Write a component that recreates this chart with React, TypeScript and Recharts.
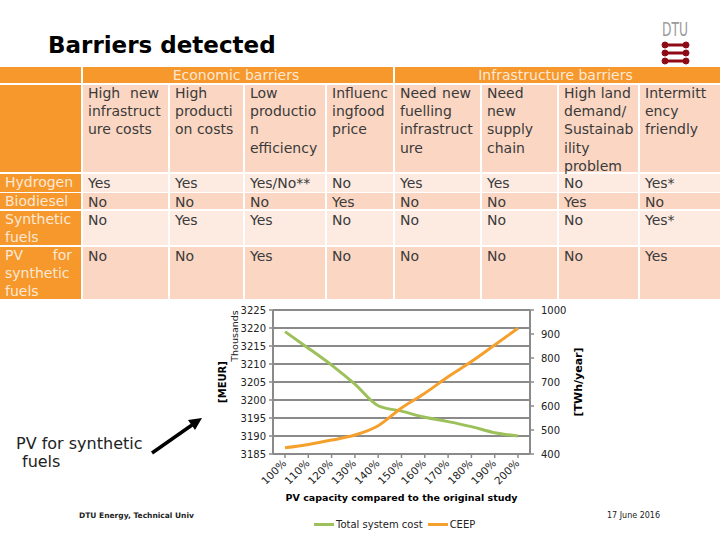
import React from "react";
import { LineChart, Line, XAxis, YAxis, CartesianGrid, Legend } from "recharts";

// chart values
const pvCapacity = ["100%", "110%", "120%", "130%", "140%", "150%", "160%", "170%", "180%", "190%", "200%"];
const totalSystemCost = [3219.0, 3214.4, 3209.7, 3204.4, 3198.4, 3196.9, 3195.2, 3194.0, 3192.6, 3190.9, 3190.0];
const ceep = [426, 440, 458, 479, 518, 592, 653, 722, 785, 854, 924];
const costTicks = [3185, 3190, 3195, 3200, 3205, 3210, 3215, 3220, 3225];
const ceepTicks = [400, 500, 600, 700, 800, 900, 1000];
const seriesNames = ["Total system cost", "CEEP"];

// barrier table
const barrierGroups = ["Economic barriers", "Infrastructure barriers"];
const barrierHeaders = [
  ["High new", "infrastruct", "ure costs"],
  ["High", "producti", "on costs"],
  ["Low", "productio", "n", "efficiency"],
  ["Influenc", "ingfood", "price"],
  ["Need new", "fuelling", "infrastruct", "ure"],
  ["Need", "new", "supply", "chain"],
  ["High land", "demand/", "Sustainab", "ility", "problem"],
  ["Intermitt", "ency", "friendly"],
];
const fuels = [["Hydrogen"], ["Biodiesel"], ["Synthetic", "fuels"], ["PV for", "synthetic", "fuels"]];
const answers = [
  ["Yes", "Yes", "Yes/No**", "No", "Yes", "Yes", "No", "Yes*"],
  ["No", "No", "No", "Yes", "No", "No", "Yes", "No"],
  ["No", "Yes", "Yes", "No", "No", "No", "No", "Yes*"],
  ["No", "No", "Yes", "No", "No", "No", "No", "Yes"],
];
const justified = new Set(["High new", "Need new", "PV for"]);

const chartData = pvCapacity.map((pv, i) => ({
  pv,
  cost: totalSystemCost[i],
  ceep: ceep[i],
}));

// layout
const colEdges = [[0, 81], [83, 168], [170, 243], [245, 325], [327, 393], [395, 480], [482, 557], [559, 638], [640, 720]];
const groupEdges = [[83, 393], [395, 720]];
const rowEdges = [[174, 192], [193, 209], [211, 245], [247, 299]];

const ORANGE = "#F6982C";
const PINK = "#FBD7C3";
const LIGHT = "#FDEBE2";
const PALE_TEXT = "#FDE8D6";
const CELL_TEXT = "#3a3a3a";
const GRID = "#8a8a8a";
const GREEN = "#9CC05A";
const LINE_ORANGE = "#F5A02C";
const FONT = "'DejaVu Sans', Verdana, sans-serif";

type CellProps = {
  left: number;
  right: number;
  top: number;
  bottom: number;
  bg: string;
  color: string;
  lines: string[];
  lh: number;
  shift?: number;
  center?: boolean;
};

const Cell = ({ left, right, top, bottom, bg, color, lines, lh, shift = 0, center }: CellProps) => (
  <div
    style={{
      position: "absolute",
      left,
      top,
      width: right - left,
      height: bottom - top,
      background: bg,
      color,
      boxSizing: "border-box",
      padding: "0 9px 0 5px",
      lineHeight: `${lh}px`,
      fontSize: 14,
      textAlign: center ? "center" : "left",
      whiteSpace: "nowrap",
    }}
  >
    <div style={{ position: "relative", top: shift }}>
      {lines.map((line, i) =>
        justified.has(line) ? (
          <div key={i} style={{ display: "flex", justifyContent: "space-between" }}>
            {line.split(" ").map((w) => (
              <span key={w}>{w}</span>
            ))}
          </div>
        ) : (
          <div key={i}>{line}</div>
        )
      )}
    </div>
  </div>
);

const BarrierTable = () => (
  <>
    <Cell left={0} right={81} top={67} bottom={83} bg={ORANGE} color={PALE_TEXT} lines={[""]} lh={16} />
    {barrierGroups.map((g, i) => (
      <Cell
        key={g}
        left={groupEdges[i][0]}
        right={groupEdges[i][1]}
        top={67}
        bottom={83}
        bg={ORANGE}
        color={PALE_TEXT}
        lines={[g]}
        lh={16}
        center
      />
    ))}
    <Cell left={0} right={81} top={85} bottom={172} bg={ORANGE} color={PALE_TEXT} lines={[""]} lh={18.2} />
    {barrierHeaders.map((h, i) => (
      <Cell
        key={i}
        left={colEdges[i + 1][0]}
        right={colEdges[i + 1][1]}
        top={85}
        bottom={172}
        bg={PINK}
        color={CELL_TEXT}
        lines={h}
        lh={18.2}
        shift={-1}
      />
    ))}
    {fuels.map((f, r) => (
      <React.Fragment key={r}>
        <Cell
          left={0}
          right={81}
          top={rowEdges[r][0]}
          bottom={rowEdges[r][1]}
          bg={ORANGE}
          color={PALE_TEXT}
          lines={f}
          lh={17.8}
        />
        {answers[r].map((a, c) => (
          <Cell
            key={c}
            left={colEdges[c + 1][0]}
            right={colEdges[c + 1][1]}
            top={rowEdges[r][0]}
            bottom={rowEdges[r][1]}
            bg={r % 2 === 0 ? LIGHT : PINK}
            color={CELL_TEXT}
            lines={[a]}
            lh={18}
          />
        ))}
      </React.Fragment>
    ))}
  </>
);

const PvTick = ({ x, y, payload }: any) => (
  <text
    x={x + 2}
    y={y + 4}
    transform={`rotate(-45, ${x + 2}, ${y + 4})`}
    textAnchor="end"
    fontSize={10.5}
    fill="#222"
  >
    {payload.value}
  </text>
);

const LegendRow = ({ payload }: any) => {
  const items = [...(payload || [])].sort(
    (a: any, b: any) => seriesNames.indexOf(a.value) - seriesNames.indexOf(b.value)
  );
  return (
    <div style={{ display: "flex", alignItems: "center", fontSize: 10, color: "#222", fontFamily: FONT }}>
      {items.map((p: any) => (
        <div key={p.value} style={{ display: "flex", alignItems: "center", marginRight: 5 }}>
          <span style={{ display: "inline-block", width: 20, height: 3, background: p.color, marginRight: 2 }} />
          <span>{p.value}</span>
        </div>
      ))}
    </div>
  );
};

const Backdrop = () => (
  <svg width={720} height={540} style={{ position: "absolute", left: 0, top: 0 }} fontFamily={FONT}>
    <text x={48} y={53} fontSize={23} fontWeight="bold" fill="#000">
      Barriers detected
    </text>
    <text x={662} y={36} fontSize={20} fill="#9a9a9a" textLength={26} lengthAdjust="spacingAndGlyphs">
      DTU
    </text>
    {[45, 53, 61].map((y) => (
      <g key={y} fill="#8E0B16" stroke="#8E0B16">
        <line x1={666} x2={685} y1={y} y2={y} strokeWidth={3} />
        <circle cx={665} cy={y} r={3} />
        <circle cx={686} cy={y} r={3} />
      </g>
    ))}
    <text x={16} y={449} fontSize={16} fill="#222">
      PV for synthetic
    </text>
    <text x={22} y={467} fontSize={16} fill="#222">
      fuels
    </text>
    <line x1={152} y1={453} x2={192} y2={425} stroke="#000" strokeWidth={3.5} />
    <polygon points="202,418 195,430 188,420" fill="#000" />
    <text transform="translate(234,336) rotate(-90)" textAnchor="middle" dominantBaseline="central" fontSize={9.5} fill="#222">
      Thousands
    </text>
    <text transform="translate(222,382) rotate(-90)" textAnchor="middle" dominantBaseline="central" fontSize={10} fontWeight="bold" fill="#000">
      [MEUR]
    </text>
    <text transform="translate(578,382) rotate(-90)" textAnchor="middle" dominantBaseline="central" fontSize={11} fontWeight="bold" fill="#000">
      [TWh/year]
    </text>
    <text x={79} y={518} fontSize={7.5} fontWeight="bold" fill="#222">
      DTU Energy, Technical Univ
    </text>
    <text x={607} y={518} fontSize={8} fill="#222">
      17 June 2016
    </text>
  </svg>
);

export default function App() {
  return (
    <div
      style={{
        position: "absolute",
        left: 0,
        top: 0,
        width: 720,
        height: 540,
        background: "#fff",
        overflow: "hidden",
        fontFamily: FONT,
      }}
    >
      <Backdrop />
      <BarrierTable />
      <div style={{ position: "absolute", left: 200, top: 300, width: 400, height: 240 }}>
        <LineChart width={400} height={240} data={chartData} margin={{ top: 10, right: 20, bottom: 36, left: 13 }}>
          <CartesianGrid yAxisId="left" vertical={false} stroke={GRID} strokeWidth={2} />
          <XAxis
            dataKey="pv"
            type="category"
            interval={0}
            height={50}
            padding={{ left: 12, right: 12 }}
            axisLine={{ stroke: GRID, strokeWidth: 2 }}
            tickLine={{ stroke: GRID, strokeWidth: 1.5 }}
            tickSize={4}
            tick={<PvTick />}
            label={{
              value: "PV capacity compared to the original study",
              position: "insideBottom",
              offset: 3,
              style: { fontSize: 9.5, fontWeight: "bold", fill: "#000" },
            }}
          />
          <YAxis
            yAxisId="left"
            orientation="left"
            width={60}
            domain={[3185, 3225]}
            ticks={costTicks}
            interval={0}
            axisLine={{ stroke: GRID, strokeWidth: 2 }}
            tickLine={{ stroke: GRID, strokeWidth: 1.5 }}
            tickSize={4}
            tickMargin={3}
            tick={{ fontSize: 10, fill: "#222" }}
          />
          <YAxis
            yAxisId="right"
            orientation="right"
            width={50}
            domain={[400, 1000]}
            ticks={ceepTicks}
            interval={0}
            axisLine={{ stroke: GRID, strokeWidth: 2 }}
            tickLine={{ stroke: GRID, strokeWidth: 1.5 }}
            tickSize={4}
            tickMargin={7}
            tick={{ fontSize: 10, fill: "#222" }}
          />
          <Legend
            layout="horizontal"
            verticalAlign="middle"
            align="center"
            content={<LegendRow />}
            wrapperStyle={{ left: 114, top: 219, width: 200 }}
          />
          <Line
            yAxisId="left"
            type="monotone"
            dataKey="cost"
            name={seriesNames[0]}
            stroke={GREEN}
            strokeWidth={3}
            dot={false}
            isAnimationActive={false}
          />
          <Line
            yAxisId="right"
            type="monotone"
            dataKey="ceep"
            name={seriesNames[1]}
            stroke={LINE_ORANGE}
            strokeWidth={3}
            dot={false}
            isAnimationActive={false}
          />
        </LineChart>
      </div>
    </div>
  );
}
